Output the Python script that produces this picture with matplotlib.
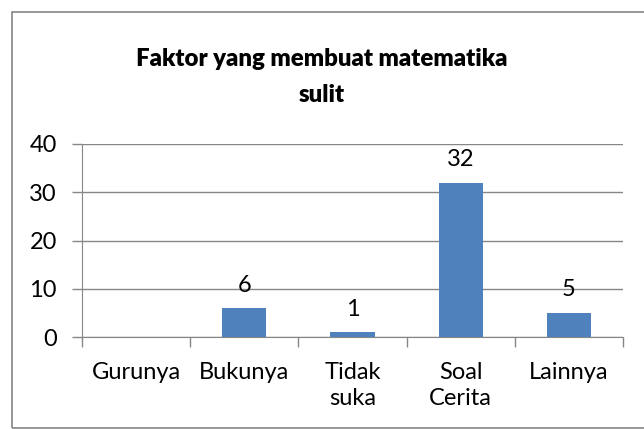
import matplotlib.pyplot as plt
from matplotlib.patches import Rectangle

kategori = ['Gurunya', 'Bukunya', 'Tidak\nsuka', 'Soal\nCerita', 'Lainnya']
jumlah = [0, 6, 1, 32, 5]

plt.rcParams['font.family'] = ['Lato', 'DejaVu Sans']

fig = plt.figure(figsize=(6.44, 4.29), dpi=100)
ax = fig.add_axes([82/644, 92/429, 541/644, 193/429])

# bingkai chart ala excel
fig.patches.append(Rectangle((12/644, 1/429), 1.2, 1 - 13/429, transform=fig.transFigure,
                             fill=False, edgecolor='#868686', linewidth=1.2))

x = range(len(kategori))
ax.bar(x, jumlah, width=0.41, color='#4F81BD', zorder=3)
for i, v in enumerate(jumlah):
    if v > 0:
        ax.annotate(str(v), (i, v), xytext=(0, 9), textcoords='offset points',
                    ha='center', va='bottom', fontsize=17)

ax.set_xlim(-0.5, 4.5)
ax.set_ylim(0, 40)
ax.set_yticks([0, 10, 20, 30, 40])
ax.yaxis.grid(True, color='#868686', linewidth=1, zorder=0)
ax.set_xticks([-0.5, 0.5, 1.5, 2.5, 3.5, 4.5])
ax.set_xticklabels([])
ax.set_xticks(list(x), minor=True)
ax.set_xticklabels(kategori, minor=True, fontsize=17, linespacing=1.3)
ax.tick_params(axis='x', which='minor', length=0, pad=18)
ax.tick_params(axis='x', which='major', length=7, color='#868686', width=1)
ax.tick_params(axis='y', length=7, color='#868686', width=1, labelsize=17, pad=11)
for s in ['top', 'right']:
    ax.spines[s].set_visible(False)
ax.spines['left'].set_color('#868686')
ax.spines['bottom'].set_color('#868686')

fig.text(0.5, 1 - 77/429, 'Faktor yang membuat matematika\nsulit', ha='center', va='center',
         fontsize=17.3, fontweight='heavy', linespacing=1.75)

fig.savefig('out.png', dpi=100)
